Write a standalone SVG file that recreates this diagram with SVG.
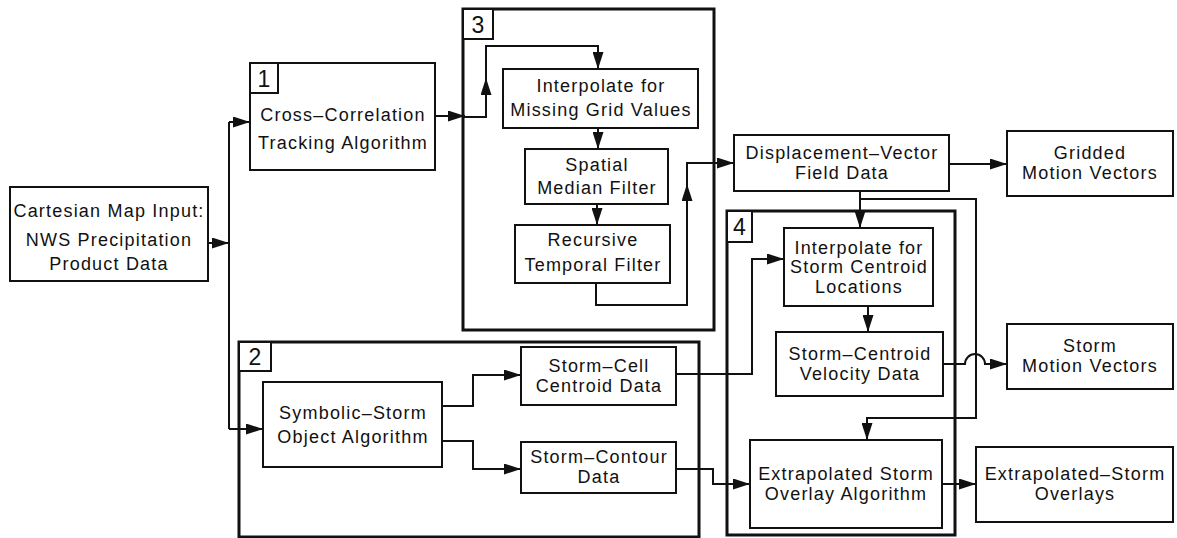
<svg xmlns="http://www.w3.org/2000/svg" width="1177" height="538" viewBox="0 0 1177 538">
  <style>
    .box { fill: #fff; stroke: #111; stroke-width: 2; }
    .frame { fill: none; stroke: #111; stroke-width: 3; }
    .tag { fill: #fff; stroke: #111; stroke-width: 2; }
    .t { font-family: "Liberation Sans", Arial, sans-serif; font-size: 18px; letter-spacing: 1.2px; fill: #111; text-anchor: middle; }
    .n { font-family: "Liberation Sans", Arial, sans-serif; font-size: 23px; fill: #111; text-anchor: middle; }
    .c { fill: none; stroke: #111; stroke-width: 2; }
    .a { marker-end: url(#ah); }
  </style>
  <defs>
    <marker id="ah" markerWidth="17" markerHeight="11" refX="17" refY="5.5" orient="auto" markerUnits="userSpaceOnUse">
      <path d="M0,0 L17,5.5 L0,11 z" fill="#111"/>
    </marker>
  </defs>
  <rect width="1177" height="538" fill="#fff"/>

  <!-- grouping frames -->
  <g id="group3">
    <rect class="frame" x="463" y="9" width="251" height="321"/>
    <rect class="tag" x="463" y="9" width="30" height="30"/>
    <text class="n" x="478" y="33">3</text>
  </g>
  <g id="group2">
    <rect class="frame" x="239" y="342" width="460" height="195"/>
    <rect class="tag" x="239" y="342" width="32" height="29"/>
    <text class="n" x="255" y="365">2</text>
  </g>
  <g id="group4">
    <rect class="frame" x="727" y="211" width="228" height="324"/>
    <rect class="tag" x="727" y="211" width="25" height="31"/>
    <text class="n" x="739.5" y="235">4</text>
  </g>

  <!-- connectors -->
  <g id="connectors">
    <path class="c a" d="M208,243 L229,243"/>
    <path class="c" d="M229,122 L229,429"/>
    <path class="c a" d="M229,122 L250,122"/>
    <path class="c a" d="M229,429 L263,429"/>
    <path class="c a" d="M435,116 L465,116"/>
    <path class="c a" d="M463,117 L486,117 L486,78"/>
    <path class="c a" d="M486,80 L486,46 L598,46 L598,69"/>
    <path class="c a" d="M598,128 L598,149"/>
    <path class="c a" d="M597,204 L597,225"/>
    <path class="c a" d="M596,283 L596,305 L687,305 L687,184"/>
    <path class="c a" d="M687,186 L687,163 L734,163"/>
    <path class="c a" d="M949,164 L1007,164"/>
    <path class="c a" d="M860,191 L860,228"/>
    <path class="c a" d="M860,199 L976,199 L976,418 L867,418 L867,440"/>
    <path class="c a" d="M868,306 L868,332"/>
    <path class="c a" d="M943,364 L965,364 A10,10 0 0 1 985,364 L1007,364"/>
    <path class="c a" d="M442,406 L473,406 L473,375 L521,375"/>
    <path class="c a" d="M442,441 L473,441 L473,469 L521,469"/>
    <path class="c a" d="M676,374 L752,374 L752,259 L784,259"/>
    <path class="c a" d="M676,469 L713,469 L713,484 L750,484"/>
    <path class="c a" d="M942,484 L976,484"/>
  </g>

  <g id="cartesian-input">
    <rect class="box" x="10" y="187" width="198" height="94"/>
    <text class="t" x="109" y="217">Cartesian Map Input:</text>
    <text class="t" x="109" y="246">NWS Precipitation</text>
    <text class="t" x="109" y="270">Product Data</text>
  </g>
  <g id="cross-correlation">
    <rect class="box" x="250" y="63" width="185" height="107"/>
    <rect class="tag" x="250" y="63" width="28" height="30"/>
    <text class="n" x="264" y="87">1</text>
    <text class="t" x="343" y="121">Cross–Correlation</text>
    <text class="t" x="343" y="149">Tracking Algorithm</text>
  </g>
  <g id="interpolate-grid">
    <rect class="box" x="503" y="69" width="195" height="59"/>
    <text class="t" x="601" y="92">Interpolate for</text>
    <text class="t" x="601" y="116">Missing Grid Values</text>
  </g>
  <g id="spatial-median">
    <rect class="box" x="525" y="149" width="143" height="55"/>
    <text class="t" x="597" y="171">Spatial</text>
    <text class="t" x="597" y="194">Median Filter</text>
  </g>
  <g id="recursive-temporal">
    <rect class="box" x="515" y="225" width="155" height="58"/>
    <text class="t" x="593" y="246">Recursive</text>
    <text class="t" x="593" y="271">Temporal Filter</text>
  </g>
  <g id="displacement-field">
    <rect class="box" x="734" y="135" width="215" height="56"/>
    <text class="t" x="842" y="159">Displacement–Vector</text>
    <text class="t" x="842" y="179">Field Data</text>
  </g>
  <g id="gridded-vectors">
    <rect class="box" x="1007" y="131" width="166" height="65"/>
    <text class="t" x="1090" y="159">Gridded</text>
    <text class="t" x="1090" y="179">Motion Vectors</text>
  </g>
  <g id="interpolate-centroid">
    <rect class="box" x="784" y="228" width="149" height="78"/>
    <text class="t" x="859" y="254">Interpolate for</text>
    <text class="t" x="859" y="273">Storm Centroid</text>
    <text class="t" x="859" y="293">Locations</text>
  </g>
  <g id="centroid-velocity">
    <rect class="box" x="776" y="332" width="167" height="64"/>
    <text class="t" x="860" y="360">Storm–Centroid</text>
    <text class="t" x="860" y="380">Velocity Data</text>
  </g>
  <g id="storm-motion">
    <rect class="box" x="1007" y="324" width="166" height="65"/>
    <text class="t" x="1090" y="352">Storm</text>
    <text class="t" x="1090" y="372">Motion Vectors</text>
  </g>
  <g id="symbolic-storm">
    <rect class="box" x="263" y="382" width="179" height="85"/>
    <text class="t" x="353" y="419">Symbolic–Storm</text>
    <text class="t" x="353" y="443">Object Algorithm</text>
  </g>
  <g id="storm-cell-centroid">
    <rect class="box" x="521" y="347" width="155" height="58"/>
    <text class="t" x="599" y="372">Storm–Cell</text>
    <text class="t" x="599" y="392">Centroid Data</text>
  </g>
  <g id="storm-contour">
    <rect class="box" x="521" y="442" width="155" height="51"/>
    <text class="t" x="599" y="463">Storm–Contour</text>
    <text class="t" x="599" y="483">Data</text>
  </g>
  <g id="extrapolated-overlay-algorithm">
    <rect class="box" x="750" y="440" width="192" height="88"/>
    <text class="t" x="846" y="480">Extrapolated Storm</text>
    <text class="t" x="846" y="500">Overlay Algorithm</text>
  </g>
  <g id="extrapolated-overlays">
    <rect class="box" x="976" y="447" width="197" height="75"/>
    <text class="t" x="1075" y="480">Extrapolated–Storm</text>
    <text class="t" x="1075" y="500">Overlays</text>
  </g>
</svg>
